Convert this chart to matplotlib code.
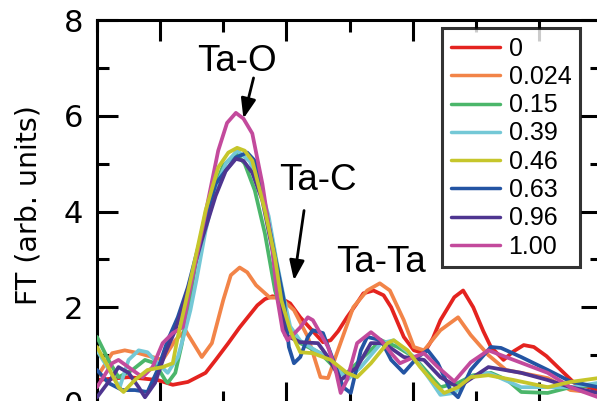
import matplotlib
matplotlib.use("Agg")
import matplotlib.pyplot as plt
from matplotlib.ticker import MultipleLocator

# legend labels and line colours
labels = ["0", "0.024", "0.15", "0.39", "0.46", "0.63", "0.96", "1.00"]
colors = ["#e4231f", "#f28448", "#4bb66a", "#74c8d6", "#c6c62b", "#2354a3", "#4e3590", "#c34a9c"]

# R and FT amplitude, one pair per sample
r_0 = [0.50, 0.75, 0.98, 1.10, 1.22, 1.36, 1.44, 1.54, 1.63, 1.77, 1.83, 1.89, 1.95, 2.03, 2.11, 2.21,
       2.29, 2.35, 2.41, 2.48, 2.55, 2.61, 2.69, 2.77, 2.83, 2.93, 3.01, 3.09, 3.16, 3.22, 3.33, 3.40,
       3.48, 3.56, 3.62, 3.72, 3.80, 3.88, 3.96, 4.06, 4.15, 4.28, 4.47]
ft_0 = [0.48, 0.54, 0.48, 0.38, 0.44, 0.63, 0.90, 1.25, 1.58, 2.04, 2.17, 2.23, 2.20, 2.08, 1.79, 1.50,
        1.27, 1.31, 1.50, 1.79, 2.05, 2.29, 2.35, 2.25, 2.00, 1.38, 1.10, 1.04, 1.35, 1.73, 2.21, 2.35,
        2.00, 1.50, 1.17, 0.90, 1.08, 1.21, 1.17, 0.98, 0.75, 0.42, 0.27]

r_024 = [0.50, 0.62, 0.72, 0.83, 0.94, 1.02, 1.12, 1.20, 1.33, 1.41, 1.50, 1.56, 1.63, 1.69, 1.76, 1.87,
         1.95, 2.06, 2.17, 2.27, 2.33, 2.40, 2.53, 2.64, 2.74, 2.82, 2.93, 3.01, 3.09, 3.22, 3.36, 3.46,
         3.60, 3.74, 3.86, 4.07, 4.25, 4.47]
ft_024 = [0.54, 1.04, 1.10, 1.04, 0.96, 0.90, 1.31, 1.52, 0.96, 1.25, 2.15, 2.67, 2.83, 2.73, 2.46, 2.20,
          2.20, 1.94, 1.38, 0.54, 0.52, 1.04, 2.00, 2.35, 2.50, 2.35, 1.73, 1.17, 1.10, 1.52, 1.79, 1.42,
          1.00, 0.69, 0.63, 0.52, 0.27, 0.21]

r_15 = [0.50, 0.59, 0.67, 0.78, 0.88, 0.96, 1.04, 1.06, 1.12, 1.17, 1.22, 1.28, 1.34, 1.42, 1.50, 1.60,
        1.67, 1.75, 1.83, 1.91, 1.98, 2.06, 2.11, 2.27, 2.40, 2.48, 2.61, 2.75, 2.88, 3.01, 3.12, 3.22,
        3.36, 3.48, 3.62, 3.75, 3.86, 4.07, 4.25, 4.47]
ft_15 = [1.38, 0.90, 0.54, 0.69, 0.90, 0.83, 0.48, 0.42, 0.63, 1.21, 1.94, 2.88, 3.71, 4.44, 4.96, 5.21,
         5.00, 4.44, 3.54, 2.35, 1.73, 1.38, 1.25, 1.04, 0.69, 0.63, 0.96, 1.31, 1.17, 0.96, 0.63, 0.33,
         0.42, 0.58, 0.63, 0.48, 0.23, 0.21, 0.33, 0.38]

r_39 = [0.50, 0.68, 0.75, 0.83, 0.90, 0.98, 1.06, 1.14, 1.20, 1.24, 1.29, 1.36, 1.44, 1.52, 1.61, 1.71,
        1.79, 1.86, 1.92, 1.98, 2.03, 2.11, 2.23, 2.35, 2.48, 2.59, 2.75, 2.85, 3.01, 3.14, 3.22, 3.33,
        3.46, 3.60, 3.86, 4.07, 4.25, 4.47]
ft_39 = [1.10, 0.33, 0.90, 1.10, 1.06, 0.83, 0.63, 0.96, 1.52, 1.94, 2.60, 3.60, 4.50, 5.00, 5.27, 5.05,
         4.55, 3.90, 3.00, 2.20, 1.60, 1.30, 1.10, 0.90, 0.48, 0.75, 1.25, 1.31, 0.96, 0.48, 0.17, 0.21,
         0.54, 0.63, 0.33, 0.33, 0.33, 0.42]

r_46 = [0.50, 0.59, 0.67, 0.71, 0.80, 0.90, 1.02, 1.10, 1.14, 1.20, 1.28, 1.36, 1.46, 1.54, 1.61, 1.67,
        1.73, 1.83, 1.91, 1.96, 2.03, 2.11, 2.21, 2.35, 2.48, 2.56, 2.67, 2.80, 2.85, 2.96, 3.06, 3.17,
        3.25, 3.36, 3.46, 3.60, 3.80, 4.07, 4.25, 4.47]
ft_46 = [1.17, 0.75, 0.33, 0.23, 0.48, 0.69, 0.75, 0.83, 1.38, 2.08, 3.04, 4.02, 4.92, 5.23, 5.33, 5.27,
         5.06, 4.02, 3.04, 2.15, 1.52, 1.06, 1.04, 0.90, 0.63, 0.54, 0.83, 1.25, 1.31, 1.10, 0.75, 0.42,
         0.21, 0.33, 0.54, 0.58, 0.48, 0.33, 0.44, 0.52]

r_63 = [0.50, 0.59, 0.70, 0.80, 0.90, 0.98, 1.06, 1.14, 1.22, 1.33, 1.44, 1.60, 1.69, 1.75, 1.81, 1.89,
        1.98, 2.02, 2.06, 2.11, 2.17, 2.21, 2.29, 2.35, 2.45, 2.51, 2.59, 2.64, 2.75, 2.83, 2.93, 3.04,
        3.12, 3.20, 3.30, 3.36, 3.46, 3.62, 3.70, 3.86, 4.07, 4.25, 4.47]
ft_63 = [0.69, 0.42, 0.27, 0.27, 0.23, 0.69, 1.31, 1.79, 2.42, 3.54, 4.58, 5.13, 5.23, 5.06, 4.38, 3.33,
         2.15, 1.17, 0.83, 0.96, 1.38, 1.52, 1.46, 1.04, 0.33, 0.21, 1.10, 1.38, 1.31, 0.90, 0.63, 0.96,
         1.10, 0.83, 0.27, 0.12, 0.69, 1.17, 1.15, 0.96, 0.69, 0.45, 0.33]

r_96 = [0.50, 0.62, 0.67, 0.75, 0.83, 0.88, 0.96, 1.04, 1.12, 1.17, 1.24, 1.33, 1.44, 1.52, 1.60, 1.66,
        1.73, 1.81, 1.89, 1.95, 1.99, 2.11, 2.25, 2.33, 2.43, 2.56, 2.67, 2.77, 2.93, 3.09, 3.22, 3.36,
        3.60, 3.86, 4.07, 4.25, 4.47]
ft_96 = [0.12, 0.54, 0.75, 0.63, 0.33, 0.12, 0.42, 1.04, 1.52, 1.94, 2.56, 3.40, 4.33, 4.85, 5.10, 5.06,
         4.81, 4.23, 3.19, 2.15, 1.42, 1.27, 1.25, 0.96, 0.48, 0.75, 1.25, 1.25, 0.96, 0.90, 0.54, 0.33,
         0.75, 0.63, 0.48, 0.33, 0.21]

r_100 = [0.50, 0.62, 0.67, 0.78, 0.86, 0.94, 1.02, 1.10, 1.18, 1.22, 1.30, 1.38, 1.46, 1.53, 1.60, 1.66,
         1.73, 1.81, 1.89, 1.93, 1.97, 2.01, 2.11, 2.17, 2.21, 2.33, 2.39, 2.43, 2.48, 2.56, 2.67, 2.75,
         2.83, 2.90, 3.01, 3.09, 3.20, 3.33, 3.46, 3.60, 3.80, 4.07, 4.25, 4.47]
ft_100 = [0.33, 0.83, 0.90, 0.69, 0.54, 0.75, 1.25, 1.46, 1.58, 2.15, 3.19, 4.23, 5.27, 5.85, 6.06, 5.94,
          5.63, 4.58, 3.19, 2.15, 1.52, 1.31, 1.58, 1.79, 1.73, 1.17, 0.69, 0.21, 0.48, 1.25, 1.48, 1.31,
          1.04, 0.83, 0.96, 1.04, 0.75, 0.45, 0.85, 1.10, 0.90, 0.63, 0.33, 0.12]

series = [(r_0, ft_0), (r_024, ft_024), (r_15, ft_15), (r_39, ft_39),
          (r_46, ft_46), (r_63, ft_63), (r_96, ft_96), (r_100, ft_100)]
zorders = [2, 2, 3, 3, 6, 4, 4, 5]

sans = ["Liberation Sans", "DejaVu Sans"]

fig = plt.figure(figsize=(5.97, 4.01), dpi=100)
# the original is cropped: bottom and right spine sit just outside the picture
ax = fig.add_axes([97 / 597, -2 / 401, 505 / 597, 383 / 401])

for (r, ft), lab, col, z in zip(series, labels, colors, zorders):
    ax.plot(r, ft, color=col, lw=2.7, label=lab, zorder=z,
            solid_joinstyle="round", solid_capstyle="round")

ax.set_xlim(0.5, 4.5)
ax.set_ylim(0, 8)
ax.xaxis.set_major_locator(MultipleLocator(1))
ax.xaxis.set_minor_locator(MultipleLocator(0.5))
ax.yaxis.set_major_locator(MultipleLocator(2))
ax.yaxis.set_minor_locator(MultipleLocator(1))
ax.tick_params(which="both", direction="in", top=True, right=True, width=2.2,
               labelbottom=False)
ax.tick_params(which="major", length=15, pad=10)
ax.tick_params(which="minor", length=8.5)
for lbl in ax.get_yticklabels():
    lbl.set_family(["DejaVu Sans"])
    lbl.set_fontsize(22)
for sp in ax.spines.values():
    sp.set_linewidth(2.2)

fig.text(29 / 597, 1 - 205 / 401, "FT (arb. units)", rotation=90, ha="center", va="center",
         fontsize=20.5, family=["DejaVu Sans"])

# peak labels
ax.text(1.61, 6.94, "Ta-O", fontsize=26.5, family=sans, ha="center", va="baseline")
ax.text(2.25, 4.44, "Ta-C", fontsize=26.5, family=sans, ha="center", va="baseline")
ax.text(2.75, 2.73, "Ta-Ta", fontsize=26.5, family=sans, ha="center", va="baseline")
arrow = dict(arrowstyle="-|>,head_length=0.8,head_width=0.3", color="black", lw=2,
             mutation_scale=15, shrinkA=0, shrinkB=0)
ax.annotate("", xy=(1.66, 5.94), xytext=(1.74, 6.79), arrowprops=arrow, zorder=8)
ax.annotate("", xy=(2.06, 2.56), xytext=(2.14, 4.02), arrowprops=arrow, zorder=8)

leg = ax.legend(loc="upper right", bbox_to_anchor=(580 / 597, 1 - 28 / 401),
                bbox_transform=fig.transFigure, borderaxespad=0, frameon=True,
                fancybox=False, prop={"family": sans, "size": 18}, handlelength=1.95,
                handletextpad=0.36, labelspacing=0.17, borderpad=0.35)
leg.get_frame().set_edgecolor("black")
leg.get_frame().set_linewidth(2.2)
for h in leg.get_lines():
    h.set_linewidth(2.5)
leg.set_zorder(10)

plt.savefig("out.png", dpi=100)
